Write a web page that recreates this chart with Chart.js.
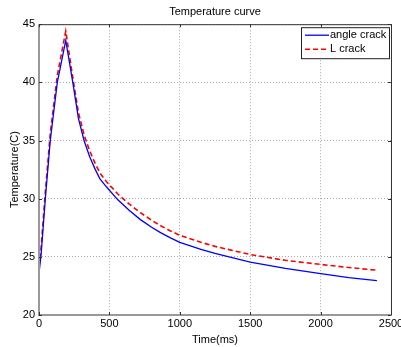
<!DOCTYPE html>
<html>
<head>
<meta charset="utf-8">
<script src="https://cdn.jsdelivr.net/npm/chart.js@4"></script>
<style>
  html,body{margin:0;padding:0;background:#fff;}
  #wrap{width:401px;height:347px;position:relative;}
</style>
</head>
<body>
<div id="wrap"><canvas id="c"></canvas></div>
<script>
const timeMs = [0, 15, 45, 80, 130, 190, 240, 280, 320, 360, 400, 433, 480, 560, 640, 720, 800, 860, 930, 1000, 1150, 1250, 1500, 1750, 2000, 2200, 2400];
const angleCrack = [23.6, 25.2, 30.0, 35.0, 40.0, 43.6, 40.0, 36.9, 35.0, 33.6, 32.5, 31.7, 31.0, 29.9, 29.0, 28.2, 27.55, 27.1, 26.65, 26.25, 25.65, 25.3, 24.55, 24.0, 23.55, 23.22, 22.95];
const lCrack =     [24.2, 25.8, 30.6, 35.6, 40.6, 44.4, 40.4, 37.4, 35.5, 34.1, 33.0, 32.2, 31.45, 30.4, 29.55, 28.8, 28.15, 27.7, 27.25, 26.85, 26.25, 25.9, 25.2, 24.7, 24.35, 24.08, 23.85];

const xTicks = [0, 500, 1000, 1500, 2000, 2500];
const yTicks = [20, 25, 30, 35, 40, 45];

const FONT = "'Liberation Sans', Arial, sans-serif";

function pts(vals){
  return timeMs.map((t,i)=>({x:t, y:vals[i]}));
}

/* =====================
   box + legend (matlab style)
===================== */
const matlabBox = {
  id:"matlabBox",
  afterDraw(chart){
    const ctx = chart.ctx;
    const a = chart.chartArea;
    ctx.save();
    // top / right dark
    ctx.strokeStyle = "#333";
    ctx.lineWidth = 1;
    ctx.beginPath();
    ctx.moveTo(a.left, a.top+0.5);
    ctx.lineTo(a.right+0.5, a.top+0.5);
    ctx.lineTo(a.right+0.5, a.bottom);
    ctx.stroke();
    // left / bottom gray
    ctx.strokeStyle = "#999";
    ctx.lineWidth = 2;
    ctx.beginPath();
    ctx.moveTo(a.left, a.top);
    ctx.lineTo(a.left, a.bottom);
    ctx.lineTo(a.right+1, a.bottom);
    ctx.stroke();

    // small inward ticks
    ctx.strokeStyle = "#333";
    ctx.lineWidth = 1;
    const xs = chart.scales.x, ys = chart.scales.y;
    ctx.beginPath();
    xTicks.forEach(v=>{
      const px = Math.round(xs.getPixelForValue(v))+0.5;
      ctx.moveTo(px, a.bottom); ctx.lineTo(px, a.bottom-3);
      ctx.moveTo(px, a.top); ctx.lineTo(px, a.top+3);
    });
    yTicks.forEach(v=>{
      const py = Math.round(ys.getPixelForValue(v))+0.5;
      ctx.moveTo(a.left, py); ctx.lineTo(a.left+3, py);
      ctx.moveTo(a.right, py); ctx.lineTo(a.right-3, py);
    });
    ctx.stroke();

    // legend
    const bx = a.right - 90, by = a.top + 3, bw = 88, bh = 31;
    ctx.fillStyle = "#fff";
    ctx.fillRect(bx, by, bw, bh);
    ctx.strokeStyle = "#222";
    ctx.lineWidth = 1;
    ctx.strokeRect(bx+0.5, by+0.5, bw, bh);
    ctx.font = "11px " + FONT;
    ctx.textBaseline = "middle";
    chart.data.datasets.forEach((ds,i)=>{
      const y = by + 8 + i*14;
      ctx.strokeStyle = ds.borderColor;
      ctx.lineWidth = ds.borderWidth;
      ctx.setLineDash(ds.borderDash || []);
      ctx.beginPath();
      ctx.moveTo(bx+4, y); ctx.lineTo(bx+28, y);
      ctx.stroke();
      ctx.setLineDash([]);
      ctx.fillStyle = "#000";
      ctx.fillText(ds.label, bx+29, y);
    });
    ctx.restore();
  }
};

new Chart(document.getElementById("c"),{
  type:"line",
  data:{
    datasets:[
      {label:"angle crack", data:pts(angleCrack), borderColor:"#0000ff", borderWidth:1.3, pointRadius:0, tension:0},
      {label:"L crack", data:pts(lCrack), borderColor:"#ff0000", borderWidth:1.6, borderDash:[5,3], pointRadius:0, tension:0}
    ]
  },
  options:{
    responsive:true,
    maintainAspectRatio:false,
    animation:false,
    layout:{padding:{left:0, right:10, top:0, bottom:0}},
    plugins:{
      legend:{display:false},
      tooltip:{enabled:false},
      title:{
        display:true,
        text:"Temperature curve",
        fullSize:false,
        color:"#000",
        font:{family:FONT, size:11, weight:"normal"},
        padding:{top:5, bottom:6}
      }
    },
    scales:{
      x:{
        type:"linear",
        min:0, max:2500,
        afterBuildTicks:s=>{ s.ticks = xTicks.map(v=>({value:v})); },
        afterFit:s=>{ s.height = 32; s.paddingLeft = 0; s.paddingRight = 0; },
        ticks:{color:"#000", font:{family:FONT, size:11}, padding:2, maxRotation:0, callback:v=>String(v)},
        grid:{color:"#aaa", drawTicks:false, lineWidth:1},
        border:{display:false, dash:[1,2]},
        title:{display:true, text:"Time(ms)", color:"#000", font:{family:FONT, size:11}, padding:{top:1, bottom:0}}
      },
      y:{
        min:20, max:45,
        afterBuildTicks:s=>{ s.ticks = yTicks.map(v=>({value:v})); },
        afterFit:s=>{ s.width = 39; },
        ticks:{color:"#000", font:{family:FONT, size:11}, padding:4, callback:v=>String(v)},
        grid:{color:"#aaa", drawTicks:false, lineWidth:1},
        border:{display:false, dash:[1,2]},
        title:{display:true, text:"Temperature(C)", color:"#000", font:{family:FONT, size:11}, padding:{top:8, bottom:2}}
      }
    }
  },
  plugins:[matlabBox]
});
</script>
</body>
</html>
